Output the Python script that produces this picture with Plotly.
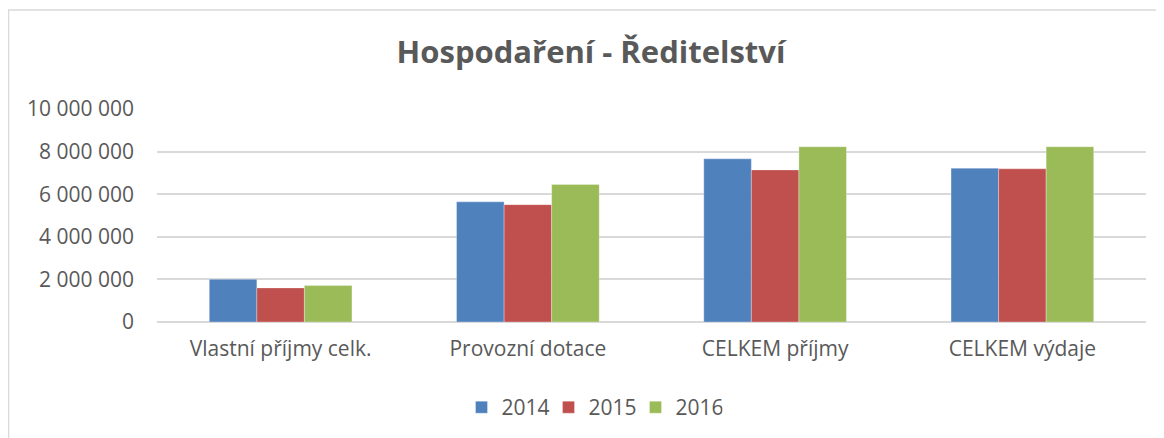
import plotly.graph_objects as go

categories = ["Vlastní příjmy celk.", "Provozní dotace", "CELKEM příjmy", "CELKEM výdaje"]
years = ["2014", "2015", "2016"]
values_2014 = [2005000, 5640000, 7660000, 7220000]
values_2015 = [1600000, 5510000, 7140000, 7190000]
values_2016 = [1710000, 6460000, 8230000, 8230000]
series = [values_2014, values_2015, values_2016]
colors = ["#4F81BD", "#C0504D", "#9BBB59"]
y_ticks = [0, 2000000, 4000000, 6000000, 8000000, 10000000]

OFF = 8  # page body margin
W, H = 1164 - OFF, 438 - OFF
L = 157 - OFF
T = 109.3 - OFF
R = W - (1146 - OFF)
B = H - (321.7 - OFF)
FONT = "Open Sans"
TXT = "#595959"

fig = go.Figure()
for name, vals, col in zip(years, series, colors):
    fig.add_trace(go.Bar(
        name=name, x=categories, y=vals,
        marker=dict(color=col, line=dict(color="rgba(255,255,255,0.5)", width=0.6)),
    ))

pw = W - L - R
ph = H - T - B
def px_x(x):
    return (x - OFF - L) / pw
def px_y(y):
    return (H - B - (y - OFF)) / ph

fig.update_layout(
    width=W, height=H,
    margin=dict(l=L, r=R, t=T, b=B, pad=0, autoexpand=False),
    paper_bgcolor="white", plot_bgcolor="white",
    barmode="group", bargap=0.423, bargroupgap=0,
    separators=", ",
    font=dict(family=FONT, size=21, color=TXT),
    title=dict(text="<b>Hospodaření - Ředitelství</b>", x=(591 - OFF) / W, xanchor="center",
               y=1 - (52 - OFF) / H, yanchor="middle", xref="container", yref="container",
               font=dict(family=FONT, size=31, color=TXT)),
    xaxis=dict(showgrid=False, showline=False, ticks="", ticklabelstandoff=12,
               tickfont=dict(family=FONT, size=21, color=TXT)),
    yaxis=dict(range=[0, 10000000], tickvals=y_ticks, tickformat=",d",
               showgrid=True, gridcolor="#d9d9d9", gridwidth=1.5,
               zeroline=True, zerolinecolor="#d9d9d9", zerolinewidth=1.5,
               showline=False, ticks="", ticklabelstandoff=22,
               tickfont=dict(family=FONT, size=21, color=TXT)),
    legend=dict(orientation="h", x=px_x(592), xanchor="center", y=px_y(407), yanchor="middle",
                font=dict(family=FONT, size=21, color=TXT), entrywidth=42,
                bgcolor="rgba(0,0,0,0)"),
    showlegend=True,
    shapes=[dict(type="rect", xref="paper", yref="paper",
                 x0=px_x(8.5), x1=px_x(1300), y0=px_y(480), y1=px_y(10.5),
                 line=dict(color="#d9d9d9", width=1.5), fillcolor="rgba(0,0,0,0)", layer="below")],
)

fig.write_html("out.html")
